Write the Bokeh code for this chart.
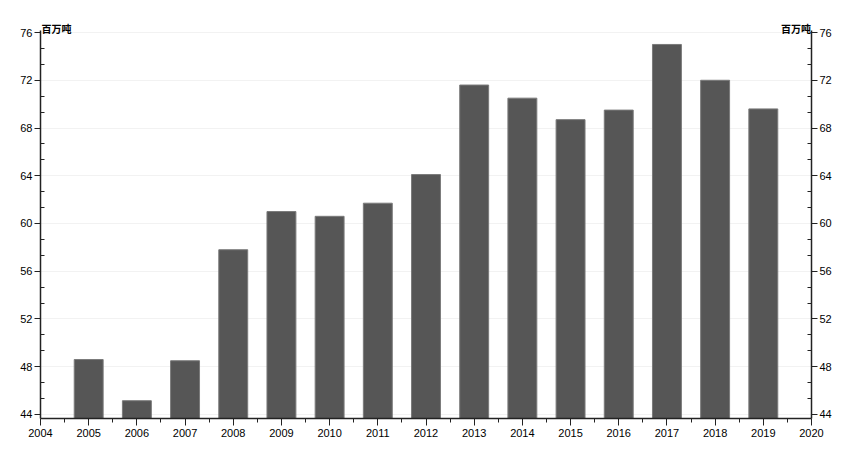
from bokeh.plotting import figure
from bokeh.models import LinearAxis, Range1d, FixedTicker
from bokeh.embed import file_html
from bokeh.resources import INLINE

years = [2005, 2006, 2007, 2008, 2009, 2010, 2011, 2012, 2013, 2014, 2015, 2016, 2017, 2018, 2019]
values = [48.6, 45.15, 48.5, 57.8, 61.0, 60.6, 61.7, 64.1, 71.6, 70.5, 68.7, 69.5, 75.0, 72.0, 69.6]
x_ticks = list(range(2004, 2021))
y_ticks = [44, 48, 52, 56, 60, 64, 68, 72, 76]
unit_label = "百万吨"
unit_label_x = [2004.33, 2019.68]

FONT = "Liberation Sans"

p = figure(width=840, height=443, output_backend="svg", toolbar_location=None,
           x_range=Range1d(2004, 2020), y_range=Range1d(43.66, 76.17),
           min_border_left=40, min_border_right=29, min_border_top=30, min_border_bottom=25,
           outline_line_color=None, background_fill_color="white")

bottom = p.y_range.start
p.vbar(x=years, top=values, bottom=bottom, width=0.6,
       fill_color="#565656", line_color="#7a7a7a", line_width=1)

p.xgrid.grid_line_color = None
p.ygrid.ticker = FixedTicker(ticks=y_ticks)
p.ygrid.grid_line_color = "#f2f2f2"
p.ygrid.grid_line_width = 1

# x axis
xa = p.xaxis[0]
xa.ticker = FixedTicker(ticks=x_ticks, minor_ticks=[y + 0.5 for y in x_ticks[:-1]])
xa.axis_line_color = "#222222"
xa.axis_line_width = 1.5
xa.major_tick_line_color = "#222222"
xa.major_tick_out = 7
xa.major_tick_in = 0
xa.minor_tick_line_color = "#222222"
xa.minor_tick_out = 4
xa.minor_tick_in = 0
xa.major_label_text_font = FONT
xa.major_label_text_font_size = "11px"
xa.major_label_text_color = "black"
xa.major_label_standoff = 3

minor_y = []
for i in range(len(y_ticks) - 1):
    minor_y += [y_ticks[i] + 4 / 3, y_ticks[i] + 8 / 3]

def style_y(ax):
    ax.ticker = FixedTicker(ticks=y_ticks, minor_ticks=minor_y)
    ax.axis_line_color = "#222222"
    ax.axis_line_width = 1.5
    ax.major_tick_line_color = "#222222"
    ax.major_tick_out = 6
    ax.major_tick_in = 0
    ax.minor_tick_line_color = "#222222"
    ax.minor_tick_out = 0
    ax.minor_tick_in = 4
    ax.major_label_text_font = FONT
    ax.major_label_text_font_size = "11px"
    ax.major_label_text_color = "black"
    ax.major_label_standoff = 2

style_y(p.yaxis[0])
ra = LinearAxis()
style_y(ra)
p.add_layout(ra, "right")

# unit labels via an invisible top axis
ta = LinearAxis()
ta.ticker = FixedTicker(ticks=unit_label_x, minor_ticks=[])
ta.major_label_overrides = {unit_label_x[0]: unit_label, unit_label_x[1]: unit_label}
ta.axis_line_color = None
ta.major_tick_line_color = None
ta.minor_tick_line_color = None
ta.major_tick_in = 0
ta.major_tick_out = 0
ta.major_label_standoff = -5
ta.major_label_text_font = "Noto Sans CJK SC"
ta.major_label_text_font_size = "10px"
ta.major_label_text_font_style = "bold"
ta.major_label_text_color = "black"
p.add_layout(ta, "above")

open("out.html", "w").write(file_html(p, INLINE))
